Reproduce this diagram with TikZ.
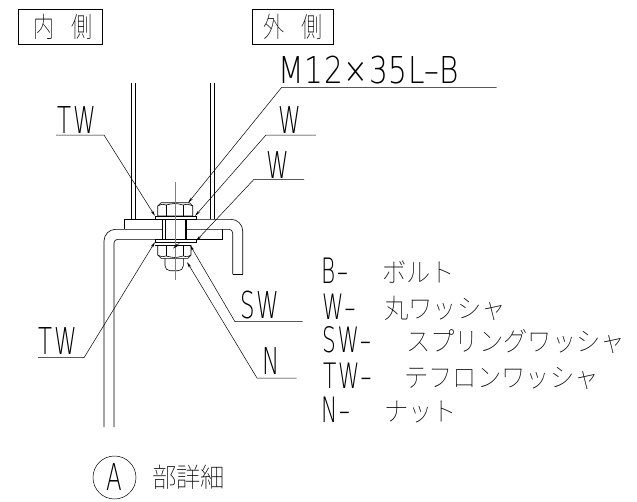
\documentclass[tikz,border=0pt]{standalone}
\usepackage{fontspec}
\setmainfont[FakeStretch=0.62,LetterSpace=5]{DejaVu Sans ExtraLight}
\newfontfamily\mfont[FakeStretch=0.8,LetterSpace=2]{DejaVu Sans ExtraLight}
\newfontfamily\cjk[UprightFont=* Thin,FakeStretch=0.9]{Noto Sans CJK JP}
\newfontfamily\cjkn[UprightFont=* Thin,FakeStretch=0.75]{Noto Sans CJK JP}
\usetikzlibrary{arrows.meta}
\tikzset{
	part/.style = {line width=0.6pt},
	leader/.style = {line width=0.5pt},
	tipline/.style = {leader, -{Stealth[length=6pt,width=2.5pt]}},
	lbl/.style = {inner sep=0pt, anchor=base west, font=\fontsize{37}{37}\selectfont},
	key/.style = {inner sep=0pt, anchor=base west, font=\fontsize{35}{35}\selectfont},
	jp/.style = {inner sep=0pt, anchor=base west, font=\cjk\fontsize{27}{27}\selectfont},
	titlebox/.style = {draw, leader, minimum height=35pt, inner sep=0pt, font=\cjkn\fontsize{28}{28}\selectfont}
}
\begin{document}
\begin{tikzpicture}[x=1pt, y=-1pt]

	\useasboundingbox (0,0) rectangle (637,501);

	% title boxes
	\node (inbox) [titlebox, minimum width=84pt] at (60.3,26.5) {\hspace{6pt}内\hspace{17pt}側};
	\node (outbox) [titlebox, minimum width=80.6pt] at (293,26.5) {外\hspace{17pt}側};

	% webs
	\draw[part] (131,83) -- (131,219) (135.3,83) -- (135.3,219);
	\draw[part] (210,83) -- (210,219) (214.3,83) -- (214.3,219);

	% plates
	\draw[part] (124.3,229.3) -- (124.3,219.3) -- (180,219.3);
	\draw[part, rounded corners=11.7pt] (180,219.3) -- (242.7,219.3) -- (242.7,274.3);
	\draw[part, rounded corners=3.7pt] (186.7,229.3) -- (232.7,229.3) -- (232.7,274.3);
	\draw[part] (232.7,274.3) -- (242.7,274.3);
	\draw[part, rounded corners=11.7pt] (104,427) -- (104,229.3) -- (162.7,229.3);
	\draw[part, rounded corners=3.7pt] (114,427) -- (114,239.3) -- (155,239.3);
	\draw[part] (222.3,229.3) -- (222.3,239.3) -- (195,239.3);

	% shank
	\draw[part] (162.7,219.3) -- (162.7,239.3) (165,219.3) -- (165,239.3);
	\draw[part] (185,219.3) -- (185,239.3) (186.7,219.3) -- (186.7,239.3);

	% upper nut and washer
	\draw[part] (155,216) rectangle (196,219.3);
	\draw[part] (157.7,216) -- (157.7,206) -- (161,202.7) -- (189.5,202.7) -- (192.7,206) -- (192.7,216) -- cycle;
	\draw[part] (166,216) -- (166,205) (183,216) -- (183,205);
	\draw[part] (157.7,206) .. controls (162,204) .. (166,205) .. controls (175,203) .. (183,205) .. controls (188,204) .. (192.7,206);

	% lower washers, nut and bolt end
	\draw[part] (155,239.3) rectangle (196,242.7);
	\draw[part] (155,245) -- (191,245);
	\draw[part] (157.7,245) -- (157.7,255) -- (161,258.3) -- (188,258.3) -- (191,255) -- (191,245);
	\draw[part] (166,245) -- (166,256) (183,245) -- (183,256);
	\draw[part] (157.7,255) .. controls (162,257) .. (166,256) .. controls (175,258) .. (183,256) .. controls (188,257) .. (191,255);
	\draw[part, rounded corners=5pt] (165,258.3) -- (165,270.7) -- (183.3,270.7) -- (183.3,258.3);

	% centre line
	\coordinate (cltop) at (175,182);
	\coordinate (clbot) at (175,280);
	\draw[part, gray] (cltop) -- (clbot);

	% leaders
	\coordinate (mA) at (496.7,87.3);
	\coordinate (mB) at (281.7,87.3);
	\coordinate (mtip) at (188,203);
	\coordinate (twuA) at (56,135);
	\coordinate (twuB) at (104,135);
	\coordinate (twutip) at (155,216);
	\coordinate (wuA) at (316,135);
	\coordinate (wuB) at (266,135);
	\coordinate (wutip) at (195,216);
	\coordinate (wlA) at (304,179.3);
	\coordinate (wlB) at (254,179.3);
	\coordinate (wltip) at (196,241);
	\coordinate (twlA) at (38,357.7);
	\coordinate (twlB) at (84,357.7);
	\coordinate (twltip) at (155,242);
	\coordinate (swA) at (302.7,321.7);
	\coordinate (swB) at (235,321.7);
	\coordinate (swtip) at (190,245);
	\coordinate (nA) at (296.7,378);
	\coordinate (nB) at (257,378);
	\coordinate (ntip) at (187,262);
	\coordinate (thA) at (179.3,243.3);
	\coordinate (thB) at (173,248.5);

	\draw[tipline] (mA) -- (mB) -- (mtip);
	\draw[tipline] (twuA) -- (twuB) -- (twutip);
	\draw[tipline] (wuA) -- (wuB) -- (wutip);
	\draw[tipline] (wlA) -- (wlB) -- (wltip);
	\draw[tipline] (twlA) -- (twlB) -- (twltip);
	\draw[tipline] (swA) -- (swB) -- (swtip);
	\draw[tipline] (nA) -- (nB) -- (ntip);
	\draw[tipline] (thA) -- (thB);

	% leader labels
	\node (mlbl) [lbl, font=\mfont\fontsize{37}{37}\selectfont] at (278,83) {M12×35L–B};
	\node (twulbl) [lbl] at (57,133) {TW};
	\node (wulbl) [lbl] at (278,133) {W};
	\node (wllbl) [lbl] at (266.5,178) {W};
	\node (twllbl) [lbl] at (38,354) {TW};
	\node (swlbl) [lbl] at (240,318) {SW};
	\node (nlbl) [lbl] at (262,374) {N};

	% legend
	\node (bl) [key] at (321,283) {B–};
	\node (wl) [key] at (322,319) {W–};
	\node (sl) [key] at (322,352) {SW–};
	\node (tl) [key] at (323,388) {TW–};
	\node (nl) [key] at (321,422) {N–};
	\node (bj) [jp] at (382,282) {ボルト};
	\node (wj) [jp] at (384,318) {丸ワッシャ};
	\node (sj) [jp] at (406,351) {スプリングワッシャ};
	\node (tj) [jp] at (404,387) {テフロンワッシャ};
	\node (nj) [jp] at (384,421) {ナット};

	% detail mark
	\node (amark) [draw, leader, circle, minimum size=43pt, inner sep=0pt, font=\fontsize{37}{37}\selectfont] at (114.5,477.5) {A};
	\node (atitle) [jp] at (152,487) {部詳細};

\end{tikzpicture}
\end{document}
